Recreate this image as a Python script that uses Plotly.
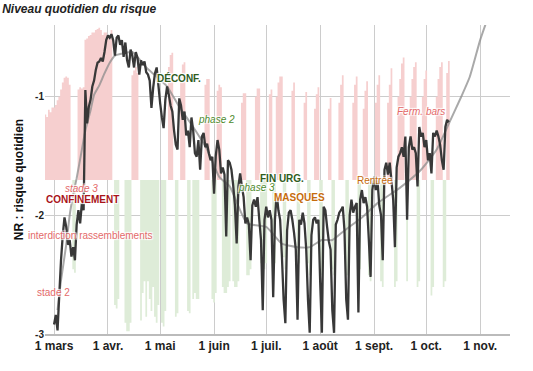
import pandas as pd
import plotly.graph_objects as go

# ---------------- data ----------------
debut_barres = "2020-02-25"
niveau_base = -1.706
ecart_quotidien = [
    0.55, 0.53, 0.59, 0.57, 0.61, 0.61, 0.63, 0.67, 0.70, 0.76,
    0.82, 0.86, 0.87, 0.86, 0.80, None, -0.75, -0.78, None, 0.76,
    0.78, 0.77, 0.78, 1.18, 1.19, 1.21, 1.22, 1.24, 1.24, 1.26,
    1.27, 1.28, 1.26, 1.22, 1.24, 1.24, 1.22, 1.18, 1.26, None,
    -1.05, -1.08, -1.00, None, None, None, -1.20, -1.27, -1.27, -1.20,
    0.88, 0.92, 0.95, 0.90, None, -1.18, -0.95, -0.85, -1.15, -0.85,
    -1.00, -1.10, -0.90, -1.15, -1.20, -1.05, None, -1.20, -1.23, -1.10,
    None, 0.95, 1.05, 1.07, None, -1.15, -1.12, None, 0.90, 0.97,
    0.99, None, -1.10, -1.12, None, -1.00, -0.95, -1.00, -1.00, None,
    None, None, 0.80, 0.85, 0.85, None, -1.00, -1.03, -0.95, 0.75,
    0.80, 0.78, -0.90, -0.95, -0.95, -0.90, -0.85, None, -0.85, -0.90,
    -0.90, -0.85, None, 0.65, 0.73, 0.73, -0.80, -0.80, -0.75, None,
    None, 0.70, 0.77, 0.77, -0.70, -0.75, -0.75, -0.70, None, 0.72,
    0.76, -0.70, -0.70, 0.70, 0.82, 0.87, 0.87, -0.65, -0.75, None,
    None, None, 0.75, 0.82, None, -0.65, -0.70, None, None, 0.65,
    0.74, -0.70, -0.80, None, None, 0.60, 0.72, 0.78, -0.75, -0.80,
    None, None, None, 0.60, 0.69, -0.75, -0.80, None, None, 0.65,
    0.80, 0.88, None, -0.80, -0.80, None, None, 0.65, 0.80, 0.87,
    -0.80, -0.75, None, 0.60, 0.75, 0.83, -0.80, -0.85, None, None,
    0.65, 0.80, 0.88, -0.85, -0.90, None, None, 0.65, 0.80, 0.94,
    None, -0.90, -0.85, 0.70, 0.85, 0.98, 1.03, None, -0.85, None,
    0.70, 0.85, 0.95, 0.99, -0.90, -0.85, None, 0.70, 0.85, 0.92,
    None, None, -0.97, -0.90, None, 0.70, 0.85, 0.95, 0.99, -0.90,
    -0.85, 0.90, 1.00,
]

debut_nr = "2020-03-01"
nr_quotidien = [
    -2.92, -2.84, -2.97, -2.67, -2.38, -2.17, -2.02, -2.10, -2.25, -2.21,
    -2.35, -2.27, -2.38, -2.08, -1.96, -2.07, -1.90, -1.96, -0.95, -1.23,
    -1.09, -1.03, -0.92, -0.87, -0.78, -0.72, -0.71, -0.68, -0.71, -0.63,
    -0.53, -0.49, -0.51, -0.48, -0.53, -0.66, -0.51, -0.49, -0.57, -0.53,
    -0.67, -0.55, -0.70, -0.76, -0.61, -0.66, -0.76, -0.63, -0.68, -0.82,
    -0.70, -0.74, -0.71, -0.80, -0.82, -0.87, -1.10, -0.93, -0.81, -0.76,
    -0.91, -1.06, -1.18, -1.27, -1.03, -0.92, -0.99, -1.08, -1.13, -1.29,
    -1.41, -1.45, -1.02, -1.08, -1.20, -1.13, -1.33, -1.29, -1.43, -1.18,
    -1.29, -1.48, -1.51, -1.37, -1.62, -1.34, -1.31, -1.43, -1.40, -1.48,
    -1.54, -1.51, -1.82, -1.50, -1.37, -1.45, -1.65, -1.60, -1.66, -2.18,
    -1.54, -1.56, -1.62, -1.75, -1.92, -2.24, -1.76, -1.65, -1.76, -1.85,
    -2.07, -2.02, -2.08, -2.38, -1.92, -1.87, -1.93, -1.85, -2.04, -2.21,
    -2.80, -2.04, -1.93, -2.02, -1.96, -2.04, -2.69, -2.04, -1.82, -1.96,
    -2.04, -2.34, -2.71, -2.91, -2.13, -1.98, -1.96, -2.04, -2.15, -2.29,
    -2.88, -2.04, -2.08, -1.98, -2.07, -2.29, -2.71, -2.99, -2.17, -2.04,
    -2.02, -2.07, -2.04, -2.55, -2.99, -1.93, -1.96, -2.10, -2.22, -2.29,
    -2.80, -2.99, -2.08, -2.04, -1.98, -1.96, -1.93, -2.13, -2.71, -2.88,
    -2.00, -1.87, -1.98, -1.93, -1.90, -2.82, -1.87, -1.79, -1.90, -1.85,
    -1.93, -2.21, -2.52, -1.79, -1.68, -1.79, -1.71, -1.92, -2.00, -2.38,
    -1.62, -1.56, -1.66, -1.56, -1.71, -1.87, -2.27, -1.60, -1.51, -1.48,
    -1.43, -1.51, -1.34, -2.04, -1.43, -1.34, -1.45, -1.43, -1.48, -1.76,
    -1.26, -1.34, -1.31, -1.43, -1.37, -1.54, -1.48, -1.65, -1.31, -1.34,
    -1.29, -1.34, -1.41, -1.54, -1.62, -1.26, -1.20, -1.22,
]

lisse_dates = [
    "2020-03-03", "2020-03-05", "2020-03-08", "2020-03-10", "2020-03-12",
    "2020-03-14", "2020-03-17", "2020-03-19", "2020-03-22", "2020-03-24",
    "2020-03-27", "2020-03-30", "2020-04-02", "2020-04-05", "2020-04-10",
    "2020-04-15", "2020-04-23", "2020-04-26", "2020-05-05", "2020-05-12",
    "2020-05-20", "2020-05-28", "2020-06-04", "2020-06-10", "2020-06-20",
    "2020-07-01", "2020-07-10", "2020-07-19", "2020-07-26", "2020-08-02",
    "2020-08-08", "2020-08-15", "2020-08-25", "2020-09-03", "2020-09-16",
    "2020-09-28", "2020-10-07", "2020-10-15", "2020-10-21", "2020-10-26",
    "2020-11-01", "2020-11-05",
]
nr_lisse = [
    -2.80, -2.55, -2.25, -2.00, -1.83,
    -1.69, -1.45, -1.29, -1.12, -0.99,
    -0.91, -0.81, -0.72, -0.66, -0.64,
    -0.63, -0.76, -0.80, -0.92, -1.09,
    -1.26, -1.45, -1.68, -1.76, -2.07,
    -2.10, -2.24, -2.27, -2.27, -2.21,
    -2.21, -2.13, -2.02, -1.90, -1.77,
    -1.62, -1.45, -1.20, -1.01, -0.84,
    -0.53, -0.36,
]

mois_vals = ["2020-03-01", "2020-04-01", "2020-05-01", "2020-06-01", "2020-07-01",
             "2020-08-01", "2020-09-01", "2020-10-01", "2020-11-01"]
mois_labels = ["1 mars", "1 avr.", "1 mai", "1 juin", "1 juil.", "1 août",
               "1 sept.", "1 oct.", "1 nov."]
y_ticks = [-1, -2, -3]

evt_textes = ["stade 2", "interdiction rassemblements", "stade 3", "CONFINEMENT",
              "DÉCONF.", "phase 2", "phase 3", "FIN URG.", "MASQUES", "Rentrée",
              "Ferm. bars"]
evt_dates = ["2020-02-29 10:00", "2020-03-21 17:00", "2020-03-16 12:00", "2020-03-17 02:00",
             "2020-05-11 14:00", "2020-06-02 05:00", "2020-06-25 12:00", "2020-07-10 03:00",
             "2020-07-19 22:00", "2020-09-01 14:00", "2020-09-28 00:00"]
evt_y = [-2.655, -2.168, -1.78, -1.866, -0.849, -1.193, -1.77, -1.697, -1.849, -1.706, -1.134]

# ---------------- styles ----------------
ROUGE_CLAIR = "#e46a6a"
ROUGE = "#a8141a"
VERT_FONCE = "#2f5c1d"
VERT = "#4d8a2d"
ORANGE = "#c66c0c"
evt_styles = [
    (ROUGE_CLAIR, "normal", "normal"),
    (ROUGE_CLAIR, "normal", "normal"),
    (ROUGE_CLAIR, "normal", "italic"),
    (ROUGE, "bold", "normal"),
    (VERT_FONCE, "bold", "normal"),
    (VERT, "normal", "italic"),
    (VERT, "normal", "italic"),
    (VERT_FONCE, "bold", "normal"),
    (ORANGE, "bold", "normal"),
    (ORANGE, "normal", "normal"),
    (ROUGE_CLAIR, "normal", "italic"),
]

FONT = "Arial, Liberation Sans, sans-serif"

# daily columns drawn as step areas centred on each day
jours = pd.date_range(debut_barres, periods=len(ecart_quotidien), freq="D")
bords = list(jours - pd.Timedelta(hours=12)) + [jours[-1] + pd.Timedelta(hours=12)]
y_hausse = [niveau_base + v if (v is not None and v > 0) else niveau_base
            for v in ecart_quotidien] + [niveau_base]
y_baisse = [niveau_base + v if (v is not None and v < 0) else niveau_base
            for v in ecart_quotidien] + [niveau_base]
y_zero = [niveau_base] * len(bords)

dates_nr = pd.date_range(debut_nr, periods=len(nr_quotidien), freq="D")

fig = go.Figure()
for yv, col in ((y_hausse, "#f6cfcf"), (y_baisse, "#deecd8")):
    fig.add_trace(go.Scatter(x=bords, y=y_zero, mode="lines",
                             line=dict(width=0, color="rgba(0,0,0,0)", shape="hv",
                                       simplify=False),
                             hoverinfo="skip", showlegend=False))
    fig.add_trace(go.Scatter(x=bords, y=yv, mode="lines", fill="tonexty", fillcolor=col,
                             line=dict(width=0, color="rgba(0,0,0,0)", shape="hv",
                                       simplify=False),
                             hoverinfo="skip", showlegend=False))

fig.add_trace(go.Scatter(x=pd.to_datetime(lisse_dates), y=nr_lisse, mode="lines",
                         line=dict(color="rgba(140,140,140,0.75)", width=2, shape="spline",
                                   smoothing=0.5),
                         hoverinfo="skip", showlegend=False))
fig.add_trace(go.Scatter(x=dates_nr, y=nr_quotidien, mode="lines",
                         line=dict(color="#383838", width=2.3, simplify=False),
                         hoverinfo="skip", showlegend=False))

halo = "1px 1px 1px #fff, -1px -1px 1px #fff, 1px -1px 1px #fff, -1px 1px 1px #fff"
for txt, d, yv, (col, w, st) in zip(evt_textes, evt_dates, evt_y, evt_styles):
    fig.add_annotation(x=d, y=yv, text=txt, showarrow=False, xanchor="center", yanchor="middle",
                       font=dict(family=FONT, size=10, color=col, weight=w, style=st,
                                 shadow=halo))

fig.update_layout(
    width=533, height=371,
    margin=dict(l=45, r=23, t=25, b=37),
    paper_bgcolor="white", plot_bgcolor="white",
    title=dict(text="Niveau quotidien du risque", x=0.004, xanchor="left",
               xref="container", yref="container", y=0.975, yanchor="middle",
               font=dict(family=FONT, size=12, color="#222", weight="bold", style="italic")),
    xaxis=dict(type="date", range=["2020-02-24 19:00", "2020-11-18 04:00"],
               tickvals=mois_vals, ticktext=mois_labels, showgrid=True,
               gridcolor="#cccccc", gridwidth=1, zeroline=False,
               showline=True, linecolor="#bbbbbb", linewidth=1.5, ticks="",
               tickfont=dict(family=FONT, size=12, color="#222", weight="bold")),
    yaxis=dict(range=[-3, -0.403], tickvals=y_ticks, ticktext=[str(v) for v in y_ticks],
               showgrid=True, gridcolor="#cccccc", gridwidth=1, zeroline=False,
               ticks="", showline=False,
               tickfont=dict(family=FONT, size=10, color="#222", weight="bold"),
               title=dict(text="NR : risque quotidien", standoff=8,
                          font=dict(family=FONT, size=12, color="#111", weight="bold"))),
)

fig.write_html("out.html", config={"displayModeBar": False},
               post_script="document.body.style.margin='0';")
